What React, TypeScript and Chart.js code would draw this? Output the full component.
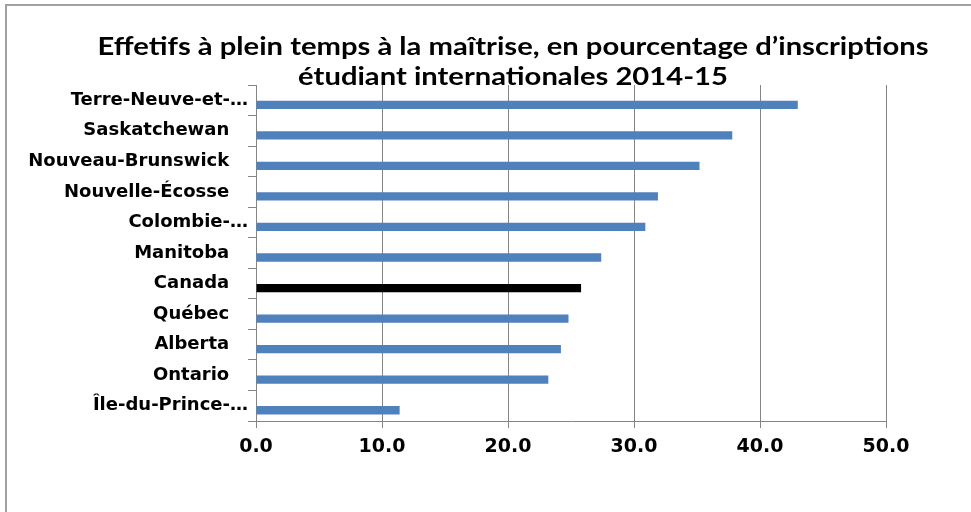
import React, { useEffect, useRef } from "react";
import { Chart, registerables } from "chart.js";

Chart.register(...registerables);

const categories = [
  "Terre-Neuve-et-…",
  "Saskatchewan",
  "Nouveau-Brunswick",
  "Nouvelle-Écosse",
  "Colombie-…",
  "Manitoba",
  "Canada",
  "Québec",
  "Alberta",
  "Ontario",
  "Île-du-Prince-…",
];

const values = [43.0, 37.8, 35.2, 31.9, 30.9, 27.4, 25.8, 24.8, 24.2, 23.2, 11.4];

const highlighted = "Canada";

const xMin = 0;
const xMax = 50;
const xStep = 10;

const titleLines = [
  "Effetifs à plein temps à la maîtrise, en pourcentage d’inscriptions",
  "étudiant internationales 2014-15",
];

const BLUE = "#4F81BD";
const GRID = "#858585";

const titlePlugin = {
  id: "excelTitle",
  afterDraw(chart: any) {
    const ctx = chart.ctx as CanvasRenderingContext2D;
    ctx.save();
    ctx.font = "bold 25px Lato";
    ctx.fillStyle = "#000";
    ctx.textAlign = "center";
    ctx.textBaseline = "alphabetic";
    const w = ctx.measureText(titleLines[0]).width;
    const sx = 831 / w;
    const cx = 513;
    titleLines.forEach((t, i) => {
      ctx.save();
      ctx.translate(cx, 55 + i * 30);
      ctx.scale(sx, 1);
      ctx.fillText(t, 0, 0);
      ctx.restore();
    });
    ctx.restore();
  },
};

export default function App() {
  const ref = useRef<HTMLCanvasElement | null>(null);

  useEffect(() => {
    if (!ref.current) return;
    const chart = new Chart(ref.current, {
      type: "bar",
      data: {
        labels: categories,
        datasets: [
          {
            label: "",
            data: categories.map(() => null),
            backgroundColor: "transparent",
            categoryPercentage: 0.59,
            barPercentage: 0.92,
          },
          {
            label: "Effectifs",
            data: values,
            backgroundColor: categories.map((c) => (c === highlighted ? "#000000" : BLUE)),
            borderWidth: 0,
            categoryPercentage: 0.59,
            barPercentage: 0.92,
          },
        ],
      },
      options: {
        indexAxis: "y",
        animation: false,
        responsive: false,
        maintainAspectRatio: false,
        layout: { padding: { left: 0, right: 85, top: 85, bottom: 0 } },
        plugins: {
          legend: { display: false },
          tooltip: { enabled: false },
          title: { display: false },
        },
        scales: {
          x: {
            min: xMin,
            max: xMax,
            ticks: {
              stepSize: xStep,
              callback: (v: any) => Number(v).toFixed(1),
              font: { family: "DejaVu Sans", weight: "bold", size: 19 },
              color: "#000",
              padding: 8,
            },
            grid: { color: GRID, lineWidth: 1, tickLength: 7 },
            border: { color: GRID, width: 1 },
            afterFit: (s: any) => {
              s.height = 91;
              s.paddingLeft = 0;
              s.paddingRight = 0;
            },
          },
          y: {
            grid: { display: true, drawOnChartArea: false, offset: true, tickLength: 8, color: GRID },
            border: { color: GRID, width: 1 },
            ticks: {
              font: { family: "DejaVu Sans", weight: "bold", size: 18 },
              color: "#000",
              padding: 0,
              callback: (_v: any, i: number) => {
                const l = categories[i];
                return l.endsWith("…") ? l : l + "   ";
              },
            },
            afterFit: (s: any) => {
              s.width = 256;
              s.paddingTop = 0;
              s.paddingBottom = 0;
            },
          },
        },
      },
      plugins: [titlePlugin],
    } as any);
    return () => chart.destroy();
  }, []);

  return (
    <div
      style={{
        position: "fixed",
        left: 0,
        top: 0,
        width: 971,
        height: 512,
        overflow: "hidden",
        background: "#fff",
      }}
    >
      <canvas ref={ref} width={971} height={512} style={{ position: "absolute", left: 0, top: 0 }} />
      <div
        style={{
          position: "absolute",
          left: 5,
          top: 4,
          width: 1000,
          height: 600,
          borderLeft: "2px solid #a0a0a0",
          borderTop: "2px solid #a0a0a0",
          pointerEvents: "none",
        }}
      />
    </div>
  );
}
